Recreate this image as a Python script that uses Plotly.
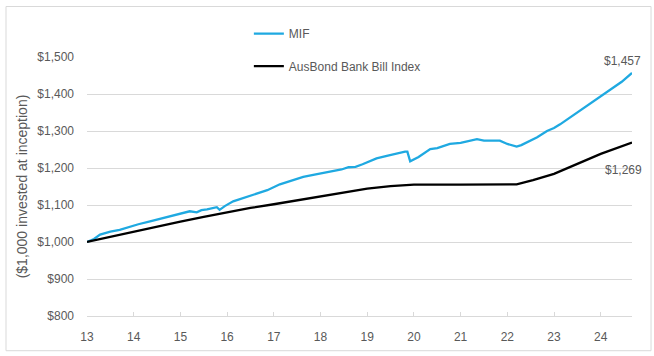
import plotly.graph_objects as go

# ---- data ----
mif_x = [13.0, 13.15, 13.28, 13.5, 13.7, 13.92, 14.1, 14.35, 14.55, 14.78, 15.0, 15.2, 15.35, 15.45,
         15.57, 15.7, 15.78, 15.84, 15.95, 16.13, 16.3, 16.5, 16.7, 16.86, 17.13, 17.35, 17.63, 17.9,
         18.2, 18.45, 18.6, 18.75, 18.9, 19.06, 19.2, 19.42, 19.6, 19.81, 19.86, 19.92, 20.1, 20.35,
         20.5, 20.77, 21.0, 21.2, 21.35, 21.5, 21.7, 21.84, 22.0, 22.2, 22.3, 22.42, 22.64, 22.85,
         23.0, 23.13, 23.3, 23.49, 23.65, 23.84, 24.0, 24.2, 24.45, 24.67]
mif_y = [1000, 1008, 1020, 1028, 1033, 1042, 1048, 1056, 1062, 1070, 1077, 1083, 1080, 1086,
         1088, 1092, 1094, 1087, 1097, 1110, 1117, 1127, 1134, 1140, 1156, 1164, 1176, 1183,
         1190, 1196, 1202, 1203, 1210, 1219, 1226, 1233, 1239, 1244, 1244, 1218, 1230, 1251,
         1254, 1265, 1268, 1273, 1278, 1274, 1275, 1274, 1265, 1258, 1262, 1269, 1283, 1300,
         1308, 1318, 1333, 1349, 1362, 1380, 1394, 1412, 1433, 1457]

bank_x = [13.0, 13.5, 14.0, 14.5, 15.0, 15.5, 16.0, 16.5, 17.0, 17.5, 18.0, 18.5, 19.0, 19.5,
          20.0, 21.0, 22.0, 22.2, 22.55, 23.0, 23.5, 24.0, 24.67]
bank_y = [1000, 1014, 1029, 1042, 1055, 1068, 1081, 1092, 1102, 1113, 1122, 1135, 1144, 1151,
          1155, 1155, 1155, 1156, 1167, 1184, 1211, 1238, 1269]

x_ticks = [13, 14, 15, 16, 17, 18, 19, 20, 21, 22, 23, 24]
y_ticks = [800, 900, 1000, 1100, 1200, 1300, 1400, 1500]
end_labels = ["$1,457", "$1,269"]

GRAY = "#595959"
FONT = "Liberation Sans, Arial, sans-serif"

fig = go.Figure()
fig.add_trace(go.Scatter(x=mif_x, y=mif_y, mode="lines", name="MIF",
                         line=dict(color="#1FA9E1", width=2.3), legend="legend"))
fig.add_trace(go.Scatter(x=bank_x, y=bank_y, mode="lines", name="AusBond Bank Bill Index",
                         line=dict(color="#000000", width=2.3), legend="legend2"))

fig.add_annotation(x=mif_x[-1], y=mif_y[-1], text=end_labels[0], showarrow=False,
                   xanchor="center", yanchor="bottom", yshift=3, xshift=-10,
                   font=dict(size=12, color=GRAY, family=FONT))
fig.add_annotation(x=bank_x[-1], y=bank_y[-1], text=end_labels[1], showarrow=False,
                   xanchor="center", yanchor="top", yshift=-19, xshift=-9,
                   font=dict(size=12, color=GRAY, family=FONT))

# outer border
fig.add_shape(type="rect", xref="paper", yref="paper", x0=-0.1486, x1=1.0349, y0=-0.134, y1=1.195,
              line=dict(color="#D9D9D9", width=1), layer="below")

fig.update_layout(
    width=654, height=356,
    margin=dict(l=87, r=22, t=57, b=38),
    paper_bgcolor="white", plot_bgcolor="white",
    font=dict(family=FONT, color=GRAY, size=12),
    showlegend=True,
    legend=dict(x=0.297, y=1.09, xanchor="left", yanchor="middle", bgcolor="rgba(0,0,0,0)",
                font=dict(size=12, color=GRAY, family=FONT), itemwidth=30),
    legend2=dict(x=0.297, y=0.965, xanchor="left", yanchor="middle", bgcolor="rgba(0,0,0,0)",
                 font=dict(size=12, color=GRAY, family=FONT), itemwidth=30),
    xaxis=dict(range=[13, 24.67], tickvals=x_ticks, ticktext=[str(v) for v in x_ticks],
               showgrid=False, zeroline=False, showline=True, linecolor="#D9D9D9", linewidth=1,
               ticks="inside", ticklen=4, tickcolor="#D9D9D9", ticklabelstandoff=10,
               tickfont=dict(size=12, color=GRAY)),
    yaxis=dict(range=[800, 1500], tickvals=y_ticks, tickformat="$,.0f",
               showgrid=True, gridcolor="#D9D9D9", gridwidth=1, zeroline=False, showline=False,
               ticklabelstandoff=12, tickfont=dict(size=12, color=GRAY),
               title=dict(text="($1,000 invested at inception)", standoff=6,
                          font=dict(size=14, color=GRAY))),
)

fig.write_html("out.html")
